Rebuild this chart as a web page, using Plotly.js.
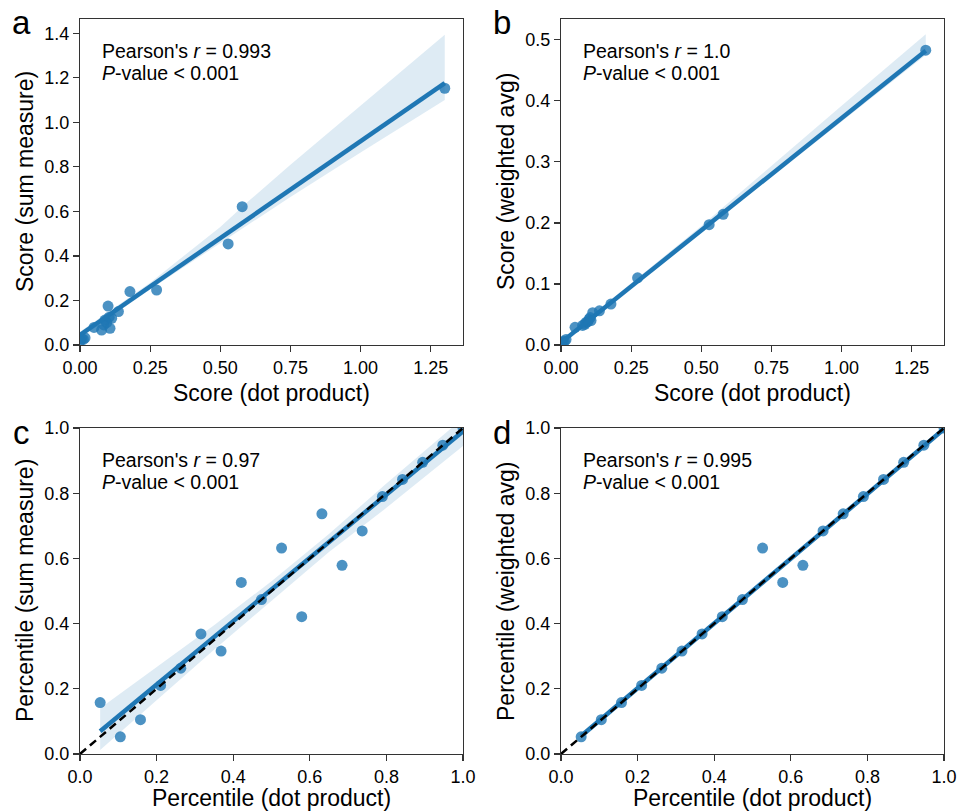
<!DOCTYPE html>
<html><head><meta charset="utf-8">
<script src="https://cdn.plot.ly/plotly-3.0.1.min.js"></script>
<style>html,body{margin:0;padding:0;background:#fff}#chart{width:961px;height:811px}</style>
</head><body><div id="chart"></div>
<script>
// ---------- data ----------
const scoreDot   = [0.002, 0.006, 0.012, 0.018, 0.050, 0.077, 0.085, 0.089, 0.095, 0.100, 0.104, 0.107, 0.113, 0.137, 0.178, 0.273, 0.528, 0.578, 1.300];
const scoreSum   = [0.020, 0.028, 0.025, 0.032, 0.079, 0.067, 0.090, 0.112, 0.100, 0.175, 0.125, 0.075, 0.120, 0.150, 0.240, 0.247, 0.454, 0.621, 1.153];
const scoreWavg  = [0.003, 0.005, 0.006, 0.009, 0.029, 0.032, 0.034, 0.037, 0.038, 0.042, 0.045, 0.040, 0.053, 0.056, 0.067, 0.110, 0.197, 0.214, 0.483];

const pctDot  = [0.0526,0.1053,0.1579,0.2105,0.2632,0.3158,0.3684,0.4211,0.4737,0.5263,0.5789,0.6316,0.6842,0.7368,0.7895,0.8421,0.8947,0.9474,1.0];
const pctSum  = [0.1579,0.0526,0.1053,0.2105,0.2632,0.3684,0.3158,0.5263,0.4737,0.6316,0.4211,0.7368,0.5789,0.6842,0.7895,0.8421,0.8947,0.9474,1.0];
const pctWavg = [0.0526,0.1053,0.1579,0.2105,0.2632,0.3158,0.3684,0.4211,0.4737,0.6316,0.5263,0.5789,0.6842,0.7368,0.7895,0.8421,0.8947,0.9474,1.0];

// regression lines and confidence bands
const aFitX = [0, 1.3],        aFitY = [0.045, 1.176];
const aBandX  = [0, 0.25, 0.5, 0.6, 0.75, 1.0, 1.3];
const aBandHi = [0.06, 0.28, 0.53, 0.645, 0.81, 1.075, 1.393];
const aBandLo = [0.03, 0.25, 0.46, 0.54, 0.665, 0.865, 1.10];

const bFitX = [0, 1.3],        bFitY = [0.004, 0.482];
const bBandX  = [0, 0.5, 1.0, 1.3];
const bBandHi = [0.007, 0.195, 0.392, 0.509];
const bBandLo = [0.001, 0.184, 0.366, 0.475];

const cFitX = [0.0526, 1.0],   cFitY = [0.07, 0.99];
const cBandX  = [0.0526, 0.2, 0.35, 0.5, 0.65, 0.8, 1.0];
const cBandHi = [0.14, 0.265, 0.395, 0.53, 0.675, 0.83, 1.03];
const cBandLo = [0.012, 0.165, 0.32, 0.47, 0.62, 0.755, 0.945];

const dFitX = [0.0526, 1.0],   dFitY = [0.055, 0.997];
const dBandX  = [0.0526, 0.5, 1.0];
const dBandHi = [0.065, 0.505, 1.006];
const dBandLo = [0.045, 0.492, 0.988];

const idX = [0, 1], idY = [0, 1];

const statsR = ["0.993", "1.0", "0.97", "0.995"];
const panelLetters = ["a", "b", "c", "d"];
const yTitles = ["Score (sum measure)", "Score (weighted avg)", "Percentile (sum measure)", "Percentile (weighted avg)"];
const xTitles = ["Score (dot product)", "Score (dot product)", "Percentile (dot product)", "Percentile (dot product)"];

const scoreTicks = [0, 0.25, 0.5, 0.75, 1.0, 1.25];
const scoreTickText = ["0.00", "0.25", "0.50", "0.75", "1.00", "1.25"];
const sumTicks = [0, 0.2, 0.4, 0.6, 0.8, 1.0, 1.2, 1.4];
const sumTickText = ["0.0", "0.2", "0.4", "0.6", "0.8", "1.0", "1.2", "1.4"];
const wavgTicks = [0, 0.1, 0.2, 0.3, 0.4, 0.5];
const wavgTickText = ["0.0", "0.1", "0.2", "0.3", "0.4", "0.5"];
const pctTicks = [0, 0.2, 0.4, 0.6, 0.8, 1.0];
const pctTickText = ["0.0", "0.2", "0.4", "0.6", "0.8", "1.0"];

// ---------- layout helpers ----------
const W = 961, H = 811;
const px = v => v / W;
const py = v => 1 - v / H;
const BLUE = "#1f77b4";
const FONT = "Liberation Sans, Arial, Helvetica, sans-serif";

// panel boxes in pixels: [left, right, top, bottom]
const boxes = [[80, 463, 19, 345], [561, 944, 19, 345], [80, 463, 428, 754], [561, 944, 428, 754]];
const xTitleOffset = [48, 48, 44, 44];

const traces = [];
function band(ax, bx, hi, lo) {
  traces.push({x: bx.concat(bx.slice().reverse()), y: hi.concat(lo.slice().reverse()),
    xaxis: ax[0], yaxis: ax[1], type: "scatter", mode: "lines", fill: "toself",
    fillcolor: "rgba(31,119,180,0.15)", line: {width: 0}, hoverinfo: "skip", showlegend: false});
}
function pts(ax, x, y) {
  traces.push({x: x, y: y, xaxis: ax[0], yaxis: ax[1], type: "scatter", mode: "markers",
    marker: {size: 11, color: BLUE, opacity: 0.8, line: {width: 0}}, showlegend: false});
}
function fit(ax, x, y) {
  traces.push({x: x, y: y, xaxis: ax[0], yaxis: ax[1], type: "scatter", mode: "lines",
    line: {color: BLUE, width: 4.5}, showlegend: false});
}
function ident(ax) {
  traces.push({x: idX, y: idY, xaxis: ax[0], yaxis: ax[1], type: "scatter", mode: "lines",
    line: {color: "#000", width: 2.5, dash: "8px,5px"}, showlegend: false});
}

const A = ["x", "y"], B = ["x2", "y2"], C = ["x3", "y3"], D = ["x4", "y4"];
band(A, aBandX, aBandHi, aBandLo); pts(A, scoreDot, scoreSum); fit(A, aFitX, aFitY);
band(B, bBandX, bBandHi, bBandLo); pts(B, scoreDot, scoreWavg); fit(B, bFitX, bFitY);
band(C, cBandX, cBandHi, cBandLo); pts(C, pctDot, pctSum); fit(C, cFitX, cFitY); ident(C);
band(D, dBandX, dBandHi, dBandLo); pts(D, pctDot, pctWavg); fit(D, dFitX, dFitY); ident(D);

function axis(box, isX, range, tv, tt, anchor) {
  const dom = isX ? [px(box[0]), px(box[1])] : [py(box[3]), py(box[2])];
  return {domain: dom, range: range, anchor: anchor, tickvals: tv, ticktext: tt,
    showgrid: false, zeroline: false, showline: true, mirror: true, linecolor: "#333", linewidth: 1.2,
    ticks: "outside", ticklen: 6, tickwidth: 1.2, tickcolor: "#333",
    tickfont: {family: FONT, size: 18, color: "#000"}, automargin: false, fixedrange: true};
}

const layout = {
  width: W, height: H, margin: {l: 0, r: 0, t: 0, b: 0},
  paper_bgcolor: "#fff", plot_bgcolor: "#fff", showlegend: false,
  font: {family: FONT, color: "#000"},
  xaxis:  axis(boxes[0], true,  [0, 1.365], scoreTicks, scoreTickText, "y"),
  yaxis:  axis(boxes[0], false, [0, 1.464], sumTicks, sumTickText, "x"),
  xaxis2: axis(boxes[1], true,  [0, 1.365], scoreTicks, scoreTickText, "y2"),
  yaxis2: axis(boxes[1], false, [0, 0.534], wavgTicks, wavgTickText, "x2"),
  xaxis3: axis(boxes[2], true,  [0, 1], pctTicks, pctTickText, "y3"),
  yaxis3: axis(boxes[2], false, [0, 1], pctTicks, pctTickText, "x3"),
  xaxis4: axis(boxes[3], true,  [0, 1], pctTicks, pctTickText, "y4"),
  yaxis4: axis(boxes[3], false, [0, 1], pctTicks, pctTickText, "x4"),
  annotations: []
};

boxes.forEach((b, i) => {
  const cx = (b[0] + b[1]) / 2, cy = (b[2] + b[3]) / 2;
  const ann = layout.annotations;
  ann.push({xref: "paper", yref: "paper", x: px(cx), y: py(b[3] + xTitleOffset[i]), text: xTitles[i],
    showarrow: false, xanchor: "center", yanchor: "middle", font: {family: FONT, size: 23, color: "#000"}});
  ann.push({xref: "paper", yref: "paper", x: px(b[0] - 55), y: py(cy), text: yTitles[i], textangle: -90,
    showarrow: false, xanchor: "center", yanchor: "middle", font: {family: FONT, size: 23, color: "#000"}});
  ann.push({xref: "paper", yref: "paper", x: px(b[0] - 59), y: py(b[2] + 4), text: panelLetters[i],
    showarrow: false, xanchor: "center", yanchor: "middle", font: {family: FONT, size: 33, color: "#000"}});
  ann.push({xref: "paper", yref: "paper", x: px(b[0] + 20), y: py(b[2] + 32),
    text: "Pearson's <i>r</i> = " + statsR[i], showarrow: false, xanchor: "left", yanchor: "middle",
    font: {family: FONT, size: 19.5, color: "#000"}});
  ann.push({xref: "paper", yref: "paper", x: px(b[0] + 20), y: py(b[2] + 54),
    text: "<i>P</i>-value &lt; 0.001", showarrow: false, xanchor: "left", yanchor: "middle",
    font: {family: FONT, size: 19.5, color: "#000"}});
});

Plotly.newPlot("chart", traces, layout, {staticPlot: true, displayModeBar: false});
</script></body></html>
